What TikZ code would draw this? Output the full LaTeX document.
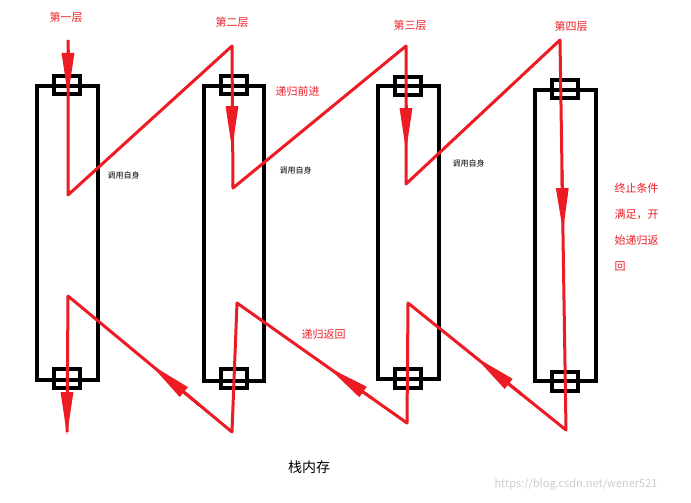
\documentclass[tikz,border=0pt]{standalone}
\usepackage{fontspec}
\setmainfont{Noto Sans CJK SC}
\usetikzlibrary{arrows.meta,calc}
\definecolor{pathred}{RGB}{237,28,36}

\begin{document}
\begin{tikzpicture}[
        x=1pt, y=-1pt,
        frame/.style={
            draw=black,
            line width=4pt
        },
        slot/.style={
            draw=black,
            line width=3.5pt
        },
        flow/.style={
            draw=pathred,
            line width=3pt,
            line join=round
        },
        tip/.style={
            pathred,
            line width=3pt,
            -{Triangle[length=44pt,width=12pt]}
        },
        layer/.style={
            font=\fontsize{11}{13}\selectfont,
            text=pathred
        },
        note/.style={
            font=\fontsize{8}{10}\selectfont,
            text=black
        }
    ]
        \useasboundingbox (0,0) rectangle (691,503);

        % stack frames
        \draw[frame] (37,86) rectangle (98,380);
        \draw[frame] (204,86) rectangle (264,381);
        \draw[frame] (378,86) rectangle (439,379);
        \draw[frame] (535,90) rectangle (596,381);
        \foreach \cx/\ty/\by in {67/86/379, 234/86/379, 408/87/379, 565/90/382} {
            \draw[slot] (\cx-13,\ty-10) rectangle (\cx+13,\ty+8);
            \draw[slot] (\cx-13,\by-10) rectangle (\cx+13,\by+9);
        }

        % path coordinates
        \coordinate (s1) at (68,40);
        \coordinate (d1) at (68,195);
        \coordinate (t2) at (232,46);
        \coordinate (d2) at (233,188);
        \coordinate (t3) at (406,46);
        \coordinate (d3) at (406,184);
        \coordinate (t4) at (560,40);
        \coordinate (e4) at (566,430);
        \coordinate (r3) at (408,303);
        \coordinate (b3) at (407,423);
        \coordinate (r2) at (237,303);
        \coordinate (b2) at (232,432);
        \coordinate (r1) at (68,296);
        \coordinate (e1) at (67,432);

        % forward and back
        \draw[flow] (s1) -- (d1) -- (t2) -- (d2) -- (t3) -- (d3) -- (t4) -- (e4)
            -- (r3) -- (b3) -- (r2) -- (b2) -- (r1) -- (e1);

        % arrow heads
        \draw[tip] (68,50) -- (68,97);
        \draw[tip] (232,100) -- (232,150);
        \draw[tip] (406,105) -- (406,152);
        \draw[tip] (562,170) -- (563,232);
        \draw[tip] (67,390) -- (67,436);
        \draw[tip] ($(e4)!0.28!(r3)$) -- ($(e4)!0.58!(r3)$);
        \draw[tip] ($(b3)!0.2!(r2)$) -- ($(b3)!0.47!(r2)$);
        \draw[tip] ($(b2)!0.2!(r1)$) -- ($(b2)!0.5!(r1)$);

        % labels
        \node[layer] (l1) at (66,17) {第一层};
        \node[layer] (l2) at (232,22) {第二层};
        \node[layer] (l3) at (410,25) {第三层};
        \node[layer] (l4) at (571,26) {第四层};
        \node[layer, anchor=west] (fwd) at (272,91) {递归前进};
        \node[layer, anchor=west] (back) at (298,334) {递归返回};
        \node[note, anchor=west] (c1) at (104,175) {调用自身};
        \node[note, anchor=west] (c2) at (276,170) {调用自身};
        \node[note, anchor=west] (c3) at (449,163) {调用自身};
        \node[layer, anchor=north west, align=left, font=\fontsize{11}{26}\selectfont]
            (stop) at (611,180) {终止条件\\满足，开\\始递归返\\回};
        \node[font=\fontsize{14}{16}\selectfont] (stack) at (309,467) {栈内存};
        \node[text=black!20, font=\fontsize{11}{13}\selectfont] (mark) at (576,484)
            {https://blog.csdn.net/wener521};
    \end{tikzpicture}
\end{document}
